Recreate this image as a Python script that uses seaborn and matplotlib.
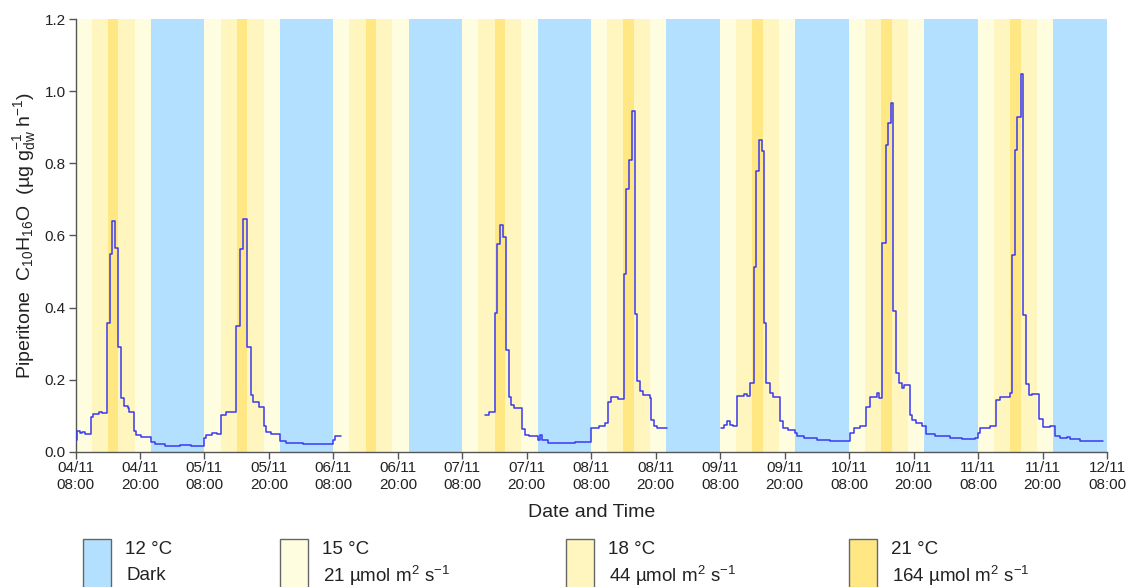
import numpy as np
import pandas as pd
import matplotlib
matplotlib.use("Agg")
import matplotlib.pyplot as plt
import matplotlib.dates as mdates
from matplotlib.patches import Rectangle
import seaborn as sns

# ---- data -------------------------------------------------------------
START = pd.Timestamp("2020-11-04 08:00")
N_DAYS = 8

# daily chamber programme (hours from 08:00) and its conditions
phase_hours = [3, 3, 2, 3, 3, 10]
phase_keys = ["t15", "t18", "t21", "t18", "t15", "t12"]

# legend entries
legend_keys = ["t12", "t15", "t18", "t21"]
legend_temps = ["12 °C", "15 °C", "18 °C", "21 °C"]
legend_light = ["Dark", r"21 µmol m$^{2}$ s$^{-1}$",
                r"44 µmol m$^{2}$ s$^{-1}$", r"164 µmol m$^{2}$ s$^{-1}$"]

# emission record, hours since 04/11 08:00 (step values); three measured runs
hours_a = [0.0, 0.25, 0.75, 1.2, 1.85, 2.9, 3.35, 4.35, 4.9, 5.85, 6.35, 6.85,
           7.4, 7.95, 8.4, 8.95, 9.75, 10.05, 10.9, 11.3, 12.25, 14.0, 14.8,
           16.7, 19.5, 21.5, 23.9, 24.3, 25.4, 26.4, 27.1, 28.05, 29.8, 30.6,
           31.2, 32.0, 32.6, 33.05, 34.1, 35.0, 35.5, 36.4, 38.0, 39.2, 42.3,
           47.9, 48.35, 49.5]
emis_a = [0.033, 0.058, 0.053, 0.055, 0.049, 0.096, 0.105, 0.110, 0.107, 0.356,
          0.550, 0.640, 0.566, 0.290, 0.150, 0.127, 0.121, 0.111, 0.058, 0.046,
          0.040, 0.026, 0.021, 0.016, 0.018, 0.016, 0.037, 0.046, 0.053, 0.050,
          0.102, 0.109, 0.348, 0.563, 0.645, 0.290, 0.158, 0.139, 0.125, 0.070,
          0.056, 0.050, 0.030, 0.024, 0.020, 0.033, 0.044, 0.044]

hours_b = [76.2, 77.0, 78.0, 78.5, 79.1, 79.6, 80.2, 80.6, 81.1, 81.7, 83.1,
           83.6, 84.5, 86.1, 86.4, 86.9, 87.9, 91.0, 93.0, 96.0, 97.5, 98.5,
           99.1, 99.7, 100.9, 102.1, 102.55, 103.0, 103.6, 104.1, 104.6, 105.0,
           105.7, 106.9, 107.2, 107.7, 108.3, 110.1]
emis_b = [0.102, 0.110, 0.385, 0.577, 0.628, 0.596, 0.283, 0.153, 0.130, 0.122,
          0.062, 0.046, 0.044, 0.033, 0.046, 0.033, 0.025, 0.023, 0.027, 0.067,
          0.070, 0.079, 0.139, 0.153, 0.147, 0.494, 0.730, 0.810, 0.945, 0.381,
          0.195, 0.169, 0.156, 0.150, 0.088, 0.070, 0.066, 0.066]

hours_c = [120.2, 120.8, 121.3, 121.8, 122.3, 123.1, 124.4, 124.9, 125.5, 126.3,
           126.6, 127.2, 127.7, 128.2, 128.6, 129.3, 129.9, 131.1, 131.7, 132.6,
           134.0, 134.3, 135.6, 138.0, 140.5, 144.1, 145.0, 146.0, 147.2, 147.8,
           149.1, 149.6, 150.2, 150.8, 151.3, 151.8, 152.2, 152.7, 153.2, 153.8,
           154.3, 155.3, 155.7, 156.5, 157.6, 158.4, 160.0, 162.8, 165.0, 167.5,
           167.9, 168.3, 170.2, 171.3, 172.0, 174.0, 174.4, 174.9, 175.3, 175.9,
           176.4, 176.9, 177.5, 178.1, 179.4, 180.0, 181.4, 182.4, 183.3, 184.5,
           185.1, 186.0, 187.0, 191.3]
emis_c = [0.067, 0.074, 0.084, 0.074, 0.070, 0.155, 0.160, 0.155, 0.190, 0.512,
          0.780, 0.865, 0.835, 0.357, 0.190, 0.163, 0.153, 0.084, 0.066, 0.060,
          0.051, 0.044, 0.037, 0.033, 0.031, 0.051, 0.066, 0.070, 0.125, 0.151,
          0.163, 0.148, 0.580, 0.851, 0.911, 0.967, 0.390, 0.218, 0.190, 0.177,
          0.186, 0.102, 0.088, 0.079, 0.072, 0.048, 0.044, 0.039, 0.035, 0.037,
          0.051, 0.065, 0.072, 0.144, 0.153, 0.163, 0.546, 0.837, 0.928, 1.049,
          0.379, 0.188, 0.158, 0.161, 0.090, 0.068, 0.072, 0.044, 0.037, 0.041,
          0.035, 0.036, 0.031, 0.031]

# ---- styling ----------------------------------------------------------
sns.set_theme(style="ticks")
plt.rcParams["font.family"] = ["Liberation Sans", "DejaVu Sans"]
plt.rcParams["mathtext.fontset"] = "custom"
plt.rcParams["mathtext.rm"] = "Liberation Sans"
plt.rcParams["mathtext.it"] = "Liberation Sans:italic"
plt.rcParams["mathtext.bf"] = "Liberation Sans:bold"
plt.rcParams["mathtext.default"] = "regular"

phase_colors = {"t12": "#b3e0fe", "t15": "#fffde0",
                "t18": "#fff5be", "t21": "#ffe784"}
LINE_COLOR = "#3a3af0"
AXIS_COLOR = "#555555"
TEXT_COLOR = "#222222"

W, H = 1130, 587
fig = plt.figure(figsize=(W / 100, H / 100), dpi=100)
x0, x1, ytop, ybot = 75.5, 1107.0, 19.3, 451.7
ax = fig.add_axes([x0 / W, 1 - ybot / H, (x1 - x0) / W, (ybot - ytop) / H])

# chamber programme as background bands
for d in range(N_DAYS):
    t = START + pd.Timedelta(days=d)
    for dur, key in zip(phase_hours, phase_keys):
        t_end = t + pd.Timedelta(hours=dur)
        ax.axvspan(t, t_end, color=phase_colors[key], lw=0, zorder=0)
        t = t_end

# emission trace
frames = []
for seg, (hh, vv) in enumerate([(hours_a, emis_a), (hours_b, emis_b),
                                (hours_c, emis_c)]):
    frames.append(pd.DataFrame({
        "time": START + pd.to_timedelta(hh, unit="h"),
        "value": vv,
        "run": seg,
    }))
df = pd.concat(frames, ignore_index=True)
sns.lineplot(data=df, x="time", y="value", units="run", estimator=None,
             drawstyle="steps-post", color=LINE_COLOR, lw=1.1, ax=ax,
             legend=False, zorder=3)

# axes
end = START + pd.Timedelta(days=N_DAYS)
ax.set_xlim(START, end)
ax.set_ylim(0, 1.2)
ax.set_xticks(pd.date_range(START, end, freq="12h"))
ax.xaxis.set_major_formatter(mdates.DateFormatter("%d/%m\n%H:%M"))
ax.set_yticks(np.arange(0, 1.21, 0.2))
ax.yaxis.set_major_formatter(matplotlib.ticker.FormatStrFormatter("%.1f"))
ax.tick_params(axis="both", direction="out", length=5, width=1,
               color=AXIS_COLOR, labelcolor=TEXT_COLOR, labelsize=11, pad=2)
for side in ("top", "right"):
    ax.spines[side].set_visible(False)
for side in ("left", "bottom"):
    ax.spines[side].set_color(AXIS_COLOR)
    ax.spines[side].set_linewidth(1)
ax.set_xlabel("Date and Time", fontsize=14, color=TEXT_COLOR, labelpad=9)
ax.set_ylabel(r"Piperitone  C$_{10}$H$_{16}$O  (µg g$_{dw}^{-1}$ h$^{-1}$)",
              fontsize=14, color=TEXT_COLOR, labelpad=5)
ax.grid(False)

# legend of chamber conditions below the axes
box_left = [83, 280, 566, 849]
for bx, key, t1, t2 in zip(box_left, legend_keys, legend_temps, legend_light):
    fig.patches.append(Rectangle((bx / W, 1 - 600 / H), 28 / W, 61 / H,
                                 transform=fig.transFigure, facecolor=phase_colors[key],
                                 edgecolor="#666666", lw=1.0))
    fig.text((bx + 42) / W, 1 - 549 / H, t1, fontsize=13.5, color=TEXT_COLOR,
             va="center", ha="left")
    fig.text((bx + 43) / W, 1 - 576 / H, t2, fontsize=13.5, color=TEXT_COLOR,
             va="center", ha="left")

fig.savefig("out.png", dpi=100)
